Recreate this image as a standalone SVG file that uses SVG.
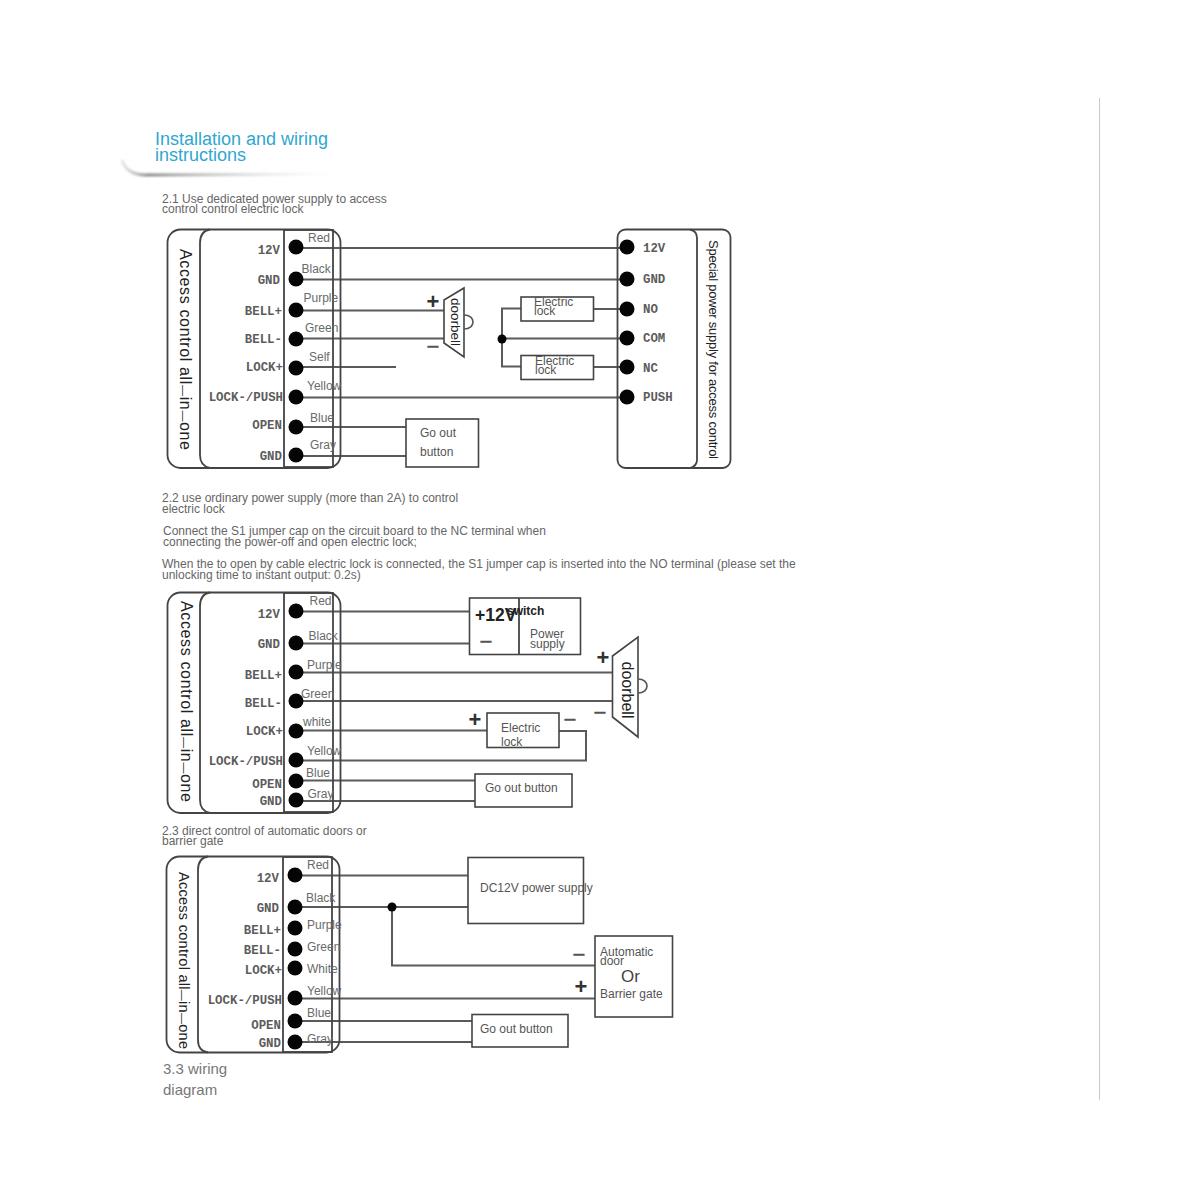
<svg xmlns="http://www.w3.org/2000/svg" width="1200" height="1200" viewBox="0 0 1200 1200">
<style>
text{font-family:"Liberation Sans",Arial,sans-serif}
.box{fill:#fff;stroke:#444;stroke-width:1.6}
.shell{fill:none;stroke:#444;stroke-width:1.8}
.wire{fill:none;stroke:#5a5a5a;stroke-width:2}
.arc{fill:none;stroke:#555;stroke-width:1.6}
.dot{fill:#050505}
.head{font-size:12px;fill:#666}
.col{font-size:12px;fill:#6a6a6a}
.box-t{font-size:12px;fill:#555}
.pin{font-family:"Liberation Mono",monospace;font-size:12.400px;font-weight:700;fill:#5c5c5c;text-anchor:end}
.pin-r{font-family:"Liberation Mono",monospace;font-size:12.400px;font-weight:700;fill:#5c5c5c}
.side{font-size:16px;fill:#222}
.d{font-size:11px}
.plus{font-size:22px;font-weight:700;fill:#333;text-anchor:middle}
.minus{font-size:22px;fill:#555;stroke:#555;stroke-width:.4;text-anchor:middle}
.bell{font-size:13.500px;fill:#222;text-anchor:middle}
.title{font-size:18px;fill:#2fa7cf}
</style>
<defs>
<linearGradient id="fade" x1="0" x2="1" y1="0" y2="0"><stop offset="0" stop-color="#e8e8e8"/><stop offset="0.07" stop-color="#bbb"/><stop offset="0.12" stop-color="#888"/><stop offset="0.25" stop-color="#aaa"/><stop offset="1" stop-color="#eee" stop-opacity="0"/></linearGradient>
<filter id="soft" x="-5%" y="-20%" width="110%" height="140%"><feGaussianBlur stdDeviation="0.800"/></filter>
</defs>
<rect width="1200" height="1200" fill="#fff"/>
<path d="M1099.500 98V1100" stroke="#c8c8c8" stroke-width="1" fill="none"/>

<g id="title">
<path d="M122 160Q126 174 144 175L340 174" fill="none" stroke="url(#fade)" stroke-width="3" filter="url(#soft)"/>
<text class="title" x="155" y="145">Installation and wiring</text>
<text class="title" x="155" y="161">instructions</text>
</g>
<g id="headings">
<text class="head" x="162" y="203">2.1 Use dedicated power supply to access</text>
<text class="head" x="162" y="213">control control electric lock</text>
<text class="head" x="162" y="502">2.2 use ordinary power supply (more than 2A) to control</text>
<text class="head" x="162" y="513">electric lock</text>
<text class="head" x="163" y="535">Connect the S1 jumper cap on the circuit board to the NC terminal when</text>
<text class="head" x="163" y="546">connecting the power-off and open electric lock;</text>
<text class="head" x="162" y="568">When the to open by cable electric lock is connected, the S1 jumper cap is inserted into the NO terminal (please set the</text>
<text class="head" x="162" y="579">unlocking time to instant output: 0.2s)</text>
<text class="head" x="162" y="835">2.3 direct control of automatic doors or</text>
<text class="head" x="162" y="845">barrier gate</text>
<text x="163" y="1074" font-size="15" fill="#777">3.3 wiring</text>
<text x="163" y="1095" font-size="15" fill="#777">diagram</text>
</g>

<g id="connectors">
<path class="wire" d="M296 248H627M296 279.500H627M296 310.500H445M296 338.500H445M296 367H396M296 397.500H627M296 427H406M296 456H406"/>
<path class="wire" d="M593 309H627M593 367H627M521 308.500H502V366.500H521M502 338.500H627"/>
<path class="wire" d="M296 611.500H469M296 643.500H469M296 672.500H612M296 701H612M296 730.500H487M296 760.500H586V731H559M296 780.500H475M296 801H475"/>
<path class="wire" d="M295 875.500H468M295 907H468M392 907V965.500H595M295 998.500H595M295 1021H472M295 1042H472"/>
</g>

<g id="panel-2-1">
<rect class="shell" x="167.500" y="229.500" width="173" height="238.500" rx="13"/>
<path class="shell" d="M210 229.500Q200 231 200 243V455Q200 466 210 468"/>
<rect class="shell" x="284" y="230" width="49" height="237"/>
<text class="side" transform="translate(179.500 249) rotate(90)" textLength="201">Access control all<tspan class="d">—</tspan>in<tspan class="d">—</tspan>one</text>
<text class="pin" x="280" y="254">12V</text><text class="pin" x="280" y="284">GND</text><text class="pin" x="282" y="315">BELL+</text><text class="pin" x="282" y="343">BELL-</text><text class="pin" x="283" y="371">LOCK+</text><text class="pin" x="283" y="401">LOCK-/PUSH</text><text class="pin" x="282" y="429">OPEN</text><text class="pin" x="282" y="460">GND</text>
<g class="dot"><circle cx="296" cy="247" r="7.500"/><circle cx="296" cy="279" r="7.500"/><circle cx="296" cy="310" r="7.500"/><circle cx="296" cy="339" r="7.500"/><circle cx="296" cy="368" r="7.500"/><circle cx="296" cy="397" r="7.500"/><circle cx="296" cy="427" r="7.500"/><circle cx="296" cy="455" r="7.500"/></g>
<text class="col" x="308" y="242">Red</text><text class="col" x="301.500" y="273">Black</text><text class="col" x="303.500" y="302">Purple</text><text class="col" x="305" y="332">Green</text><text class="col" x="309" y="361">Self</text><text class="col" x="307" y="390">Yellow</text><text class="col" x="310" y="422">Blue</text><text class="col" x="310" y="449">Gray</text>
</g>
<g id="supply-2-1">
<rect class="shell" x="617.500" y="229.500" width="113" height="238.500" rx="8"/>
<path class="shell" d="M690 229.500Q697 231 697 238V460Q697 466 690 468"/>
<text class="side" style="font-size:13px" transform="translate(708.500 240) rotate(90)" textLength="219">Special power supply for access control</text>
<g class="dot"><circle cx="627" cy="247" r="7.500"/><circle cx="627" cy="279" r="7.500"/><circle cx="627" cy="309" r="7.500"/><circle cx="627" cy="338" r="7.500"/><circle cx="627" cy="367" r="7.500"/><circle cx="627" cy="397" r="7.500"/></g>
<text class="pin-r" x="643" y="252">12V</text><text class="pin-r" x="643" y="283">GND</text><text class="pin-r" x="643" y="313">NO</text><text class="pin-r" x="643" y="342">COM</text><text class="pin-r" x="643" y="372">NC</text><text class="pin-r" x="643" y="401">PUSH</text>
</g>
<g id="doorbell-2-1">
<path class="box" d="M444 300L464 288V357L444 343Z"/>
<path class="arc" d="M464 315C476 315 476 329 464 329"/>
<text class="bell" transform="translate(451 322) rotate(90)">doorbell</text>
<text class="plus" x="433" y="309">+</text><text class="minus" x="433" y="354">−</text>
</g>
<g id="lock-a"><rect class="box" x="521" y="297" width="72.500" height="24"/><text class="box-t" x="534" y="305.500">Electric</text><text class="box-t" x="534" y="315">lock</text></g>
<g id="lock-b"><rect class="box" x="521" y="355.500" width="72.500" height="24"/><text class="box-t" x="535" y="364.500">Electric</text><text class="box-t" x="535" y="374">lock</text></g>
<circle id="junction-a" class="dot" cx="502" cy="339" r="4.500"/>
<g id="button-2-1"><rect class="box" x="406" y="419" width="72.500" height="48"/><text class="box-t" x="420" y="437">Go out</text><text class="box-t" x="420" y="456">button</text></g>

<g id="panel-2-2">
<rect class="shell" x="167.500" y="592.500" width="173" height="220.500" rx="13"/>
<path class="shell" d="M210 592.500Q200 594 200 606V800Q200 811 210 813"/>
<rect class="shell" x="284" y="593" width="49" height="219"/>
<text class="side" transform="translate(181 601) rotate(90)" textLength="201">Access control all<tspan class="d">—</tspan>in<tspan class="d">—</tspan>one</text>
<text class="pin" x="280" y="618">12V</text><text class="pin" x="280" y="648">GND</text><text class="pin" x="282" y="679">BELL+</text><text class="pin" x="282" y="707">BELL-</text><text class="pin" x="283" y="735">LOCK+</text><text class="pin" x="283" y="765">LOCK-/PUSH</text><text class="pin" x="282" y="788">OPEN</text><text class="pin" x="282" y="805">GND</text>
<g class="dot"><circle cx="296" cy="611" r="7.500"/><circle cx="296" cy="643" r="7.500"/><circle cx="296" cy="672" r="7.500"/><circle cx="296" cy="701" r="7.500"/><circle cx="296" cy="731" r="7.500"/><circle cx="296" cy="760" r="7.500"/><circle cx="296" cy="781" r="7.500"/><circle cx="296" cy="800" r="7.500"/></g>
<text class="col" x="309.500" y="605">Red</text><text class="col" x="308.500" y="639.500">Black</text><text class="col" x="307" y="669">Purple</text><text class="col" x="301" y="698">Green</text><text class="col" x="303" y="726">white</text><text class="col" x="307" y="755">Yellow</text><text class="col" x="306" y="777">Blue</text><text class="col" x="307.500" y="798">Gray</text>
</g>
<g id="power-2-2">
<rect class="box" x="469.500" y="598" width="111" height="56.500"/>
<path class="shell" d="M519 598V654"/>
<text x="475" y="621" font-size="17.500" font-weight="700" fill="#222">+12V</text>
<text x="507" y="615" font-size="12" font-weight="700" fill="#222">switch</text>
<text class="minus" x="486" y="649">−</text>
<text class="box-t" x="530" y="638">Power</text><text class="box-t" x="530" y="648">supply</text>
</g>
<g id="doorbell-2-2">
<path class="box" d="M612.500 656L638 637V737L612.500 717Z"/>
<path class="arc" d="M638 679C650 679 650 693 638 693"/>
<text class="bell" style="font-size:16px" transform="translate(622 690) rotate(90)">doorbell</text>
<text class="plus" x="603" y="665">+</text><text class="minus" x="600" y="720">−</text>
</g>
<g id="lock-2-2"><rect class="box" x="487" y="713" width="72" height="34.500"/><text class="box-t" x="501" y="732">Electric</text><text class="box-t" x="501" y="746">lock</text>
<text class="plus" x="475" y="727">+</text><text class="minus" x="570" y="727">−</text></g>
<g id="button-2-2"><rect class="box" x="475" y="774" width="97" height="33"/><text class="box-t" x="485" y="792">Go out button</text></g>

<g id="panel-2-3">
<rect class="shell" x="166.500" y="856.500" width="173" height="196" rx="13"/>
<path class="shell" d="M208 856.500Q198 858 198 870V1040Q198 1051 208 1052.500"/>
<rect class="shell" x="283" y="857" width="49" height="195"/>
<text class="side" transform="translate(179 872) rotate(90)" textLength="177" style="font-size:14.500px">Access control all<tspan class="d">—</tspan>in<tspan class="d">—</tspan>one</text>
<text class="pin" x="279" y="882">12V</text><text class="pin" x="279" y="912">GND</text><text class="pin" x="281" y="934">BELL+</text><text class="pin" x="281" y="954">BELL-</text><text class="pin" x="282" y="974">LOCK+</text><text class="pin" x="282" y="1004">LOCK-/PUSH</text><text class="pin" x="281" y="1029">OPEN</text><text class="pin" x="281" y="1047">GND</text>
<g class="dot"><circle cx="295" cy="875" r="7.500"/><circle cx="295" cy="907" r="7.500"/><circle cx="295" cy="928" r="7.500"/><circle cx="295" cy="949" r="7.500"/><circle cx="295" cy="968" r="7.500"/><circle cx="295" cy="998" r="7.500"/><circle cx="295" cy="1021" r="7.500"/><circle cx="295" cy="1042" r="7.500"/></g>
<text class="col" x="307" y="869">Red</text><text class="col" x="306" y="902">Black</text><text class="col" x="307" y="929">Purple</text><text class="col" x="307" y="951">Green</text><text class="col" x="307" y="973">White</text><text class="col" x="307" y="995">Yellow</text><text class="col" x="307" y="1017">Blue</text><text class="col" x="307" y="1043">Gray</text>
</g>
<circle id="junction-b" class="dot" cx="392" cy="907" r="4.500"/>
<g id="dc-power"><rect class="box" x="468" y="857.500" width="115.500" height="66"/><text class="box-t" x="480" y="892">DC12V power supply</text></g>
<g id="auto-door"><rect class="box" x="595" y="936" width="77.500" height="81"/>
<text class="box-t" x="600" y="955.500">Automatic</text><text class="box-t" x="600" y="965">door</text>
<text x="621" y="982" font-size="17" fill="#444">Or</text>
<text class="box-t" x="600" y="998">Barrier gate</text>
<text class="minus" x="579" y="962">−</text><text class="plus" x="581" y="994">+</text></g>
<g id="button-2-3"><rect class="box" x="472" y="1014.500" width="96" height="32.500"/><text class="box-t" x="480" y="1033">Go out button</text></g>
</svg>
